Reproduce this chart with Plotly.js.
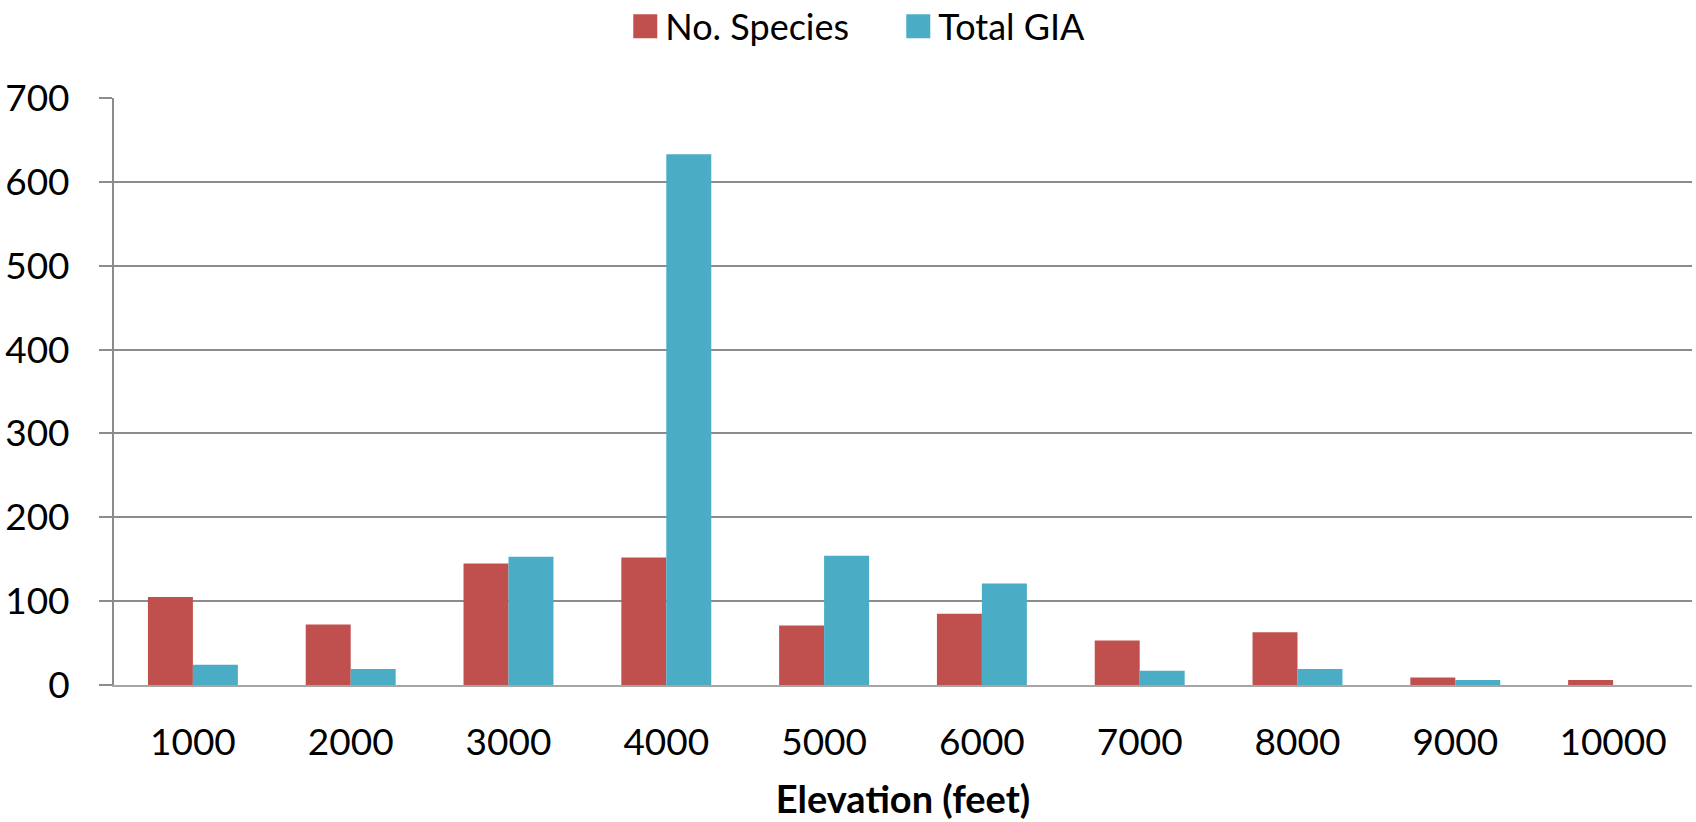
<!DOCTYPE html>
<html>
<head>
<meta charset="utf-8">
<script src="https://cdn.plot.ly/plotly-3.0.1.min.js"></script>
<style>
  html, body { margin: 0; padding: 0; background: #fff; }
  #chart { width: 1696px; height: 822px; }
</style>
</head>
<body>
<div id="chart"></div>
<script>
const elevations = ["1000", "2000", "3000", "4000", "5000", "6000", "7000", "8000", "9000", "10000"];
const noSpecies = [105, 72, 145, 152, 71, 85, 53, 63, 9, 6];
const totalGIA = [24, 19, 153, 633, 154, 121, 17, 19, 6, 0];
const yTicks = [0, 100, 200, 300, 400, 500, 600, 700];

const FONT = "Lato, 'Open Sans', 'Liberation Sans', sans-serif";

const traces = [
  {
    type: "bar",
    name: "No. Species",
    x: elevations,
    y: noSpecies,
    marker: { color: "#C0504D", line: { width: 0 } },
    hoverinfo: "x+y+name"
  },
  {
    type: "bar",
    name: "Total GIA",
    x: elevations,
    y: totalGIA,
    marker: { color: "#4BACC6", line: { width: 0 } },
    hoverinfo: "x+y+name"
  }
];

const layout = {
  width: 1696,
  height: 822,
  paper_bgcolor: "#ffffff",
  plot_bgcolor: "#ffffff",
  margin: { l: 114, r: 4, t: 98, b: 137, autoexpand: false },
  barmode: "group",
  bargap: 0.43,
  bargroupgap: 0,
  font: { family: FONT, size: 37, color: "#000000" },
  showlegend: true,
  legend: {
    orientation: "h",
    x: 0.497,
    xanchor: "center",
    y: 1.122,
    yanchor: "middle",
    font: { family: FONT, size: 36, color: "#000000" },
    itemclick: false,
    itemdoubleclick: false,
    tracegroupgap: 0,
    itemwidth: 30,
    entrywidth: 228,
    entrywidthmode: "pixels"
  },
  xaxis: {
    type: "category",
    showgrid: false,
    showline: true,
    linecolor: "#a6a6a6",
    linewidth: 2,
    ticks: "",
    ticklabelstandoff: 24,
    tickfont: { family: FONT, size: 37, color: "#000000" },
    title: {
      text: "<b>Elevation (feet)</b>",
      font: { family: FONT, size: 38, color: "#000000" },
      standoff: 24
    },
    automargin: true,
    fixedrange: true
  },
  yaxis: {
    range: [0, 700],
    tickvals: yTicks,
    ticktext: yTicks.map(String),
    showgrid: true,
    gridcolor: "#8c8c8c",
    gridwidth: 2,
    zeroline: false,
    showline: true,
    linecolor: "#8c8c8c",
    linewidth: 2,
    ticks: "outside",
    ticklen: 13,
    tickwidth: 2,
    tickcolor: "#8c8c8c",
    ticklabelstandoff: 22,
    tickfont: { family: FONT, size: 37, color: "#000000" },
    automargin: false,
    fixedrange: true
  }
};

Plotly.newPlot("chart", traces, layout, { displayModeBar: false, staticPlot: true }).then(function () {
  document.querySelectorAll(".legend .legendpoints path").forEach(function (p) {
    p.setAttribute("transform", "translate(20,0) scale(2)");
  });
});
</script>
</body>
</html>
